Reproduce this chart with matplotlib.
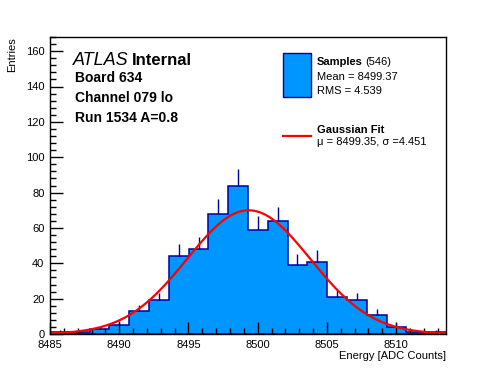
import numpy as np
import matplotlib
matplotlib.use("Agg")
import matplotlib.pyplot as plt
from matplotlib.ticker import MultipleLocator
from matplotlib.patches import Rectangle
from matplotlib.lines import Line2D

plt.rcParams['font.family'] = ['Liberation Sans', 'DejaVu Sans']

# histogram data (20 bins)
x_lo, x_hi = 8485.0, 8513.6
counts = np.array([1, 1, 3, 5, 13, 19, 44, 48, 68, 84,
                   59, 64, 39, 41, 21, 19, 11, 4, 1, 1])
n_entries = 546
mean_val, rms_val = 8499.37, 4.539
fit_mu, fit_sigma = 8499.35, 4.451

edges = np.linspace(x_lo, x_hi, len(counts) + 1)
centers = 0.5 * (edges[:-1] + edges[1:])
bw = edges[1] - edges[0]

W, H = 496, 372
fig = plt.figure(figsize=(W / 100, H / 100), dpi=100)
ax = fig.add_axes([50 / W, 1 - 334 / H, 396 / W, 297 / H])

def px(x, y):
    return x / W, 1 - y / H

fill = '#0096ff'
edge = '#00009c'
ax.hist(centers, bins=edges, weights=counts, histtype='stepfilled',
        facecolor=fill, edgecolor=edge, linewidth=1.1)
ax.vlines(centers, counts, counts + np.sqrt(counts), color=edge, linewidth=1)

# gaussian fit curve from fitted parameters
xs = np.linspace(x_lo, x_hi, 400)
gauss = n_entries * bw / (np.sqrt(2 * np.pi) * fit_sigma) * np.exp(-0.5 * ((xs - fit_mu) / fit_sigma) ** 2)
ax.plot(xs, gauss, color='#ff0000', linewidth=1.6)

ax.set_xlim(x_lo, x_hi)
ax.set_ylim(0, 168)
ax.xaxis.set_major_locator(MultipleLocator(5))
ax.xaxis.set_minor_locator(MultipleLocator(1))
ax.yaxis.set_major_locator(MultipleLocator(20))
ax.yaxis.set_minor_locator(MultipleLocator(4))
ax.tick_params(which='both', direction='in', top=False, right=False, labelsize=8)
ax.tick_params(which='major', length=9, width=1)
ax.tick_params(which='minor', length=4.5, width=1)
ax.tick_params(axis='x', pad=4)
ax.tick_params(axis='y', pad=4)
for s in ax.spines.values():
    s.set_linewidth(1)

# axis titles
fig.text(*px(446, 359), 'Energy [ADC Counts]', ha='right', va='baseline', fontsize=8)
fig.text(*px(7, 37), 'Entries', ha='right', va='top', rotation=90, fontsize=8,
         rotation_mode='anchor')

# ATLAS labels
fig.text(*px(73, 65), 'ATLAS', style='italic', fontsize=13, va='baseline')
fig.text(*px(132, 65), 'Internal', weight='bold', fontsize=12, va='baseline')
fig.text(*px(75, 82), 'Board 634', weight='bold', fontsize=10, va='baseline')
fig.text(*px(75, 102), 'Channel 079 lo', weight='bold', fontsize=10, va='baseline')
fig.text(*px(75, 122), 'Run 1534 A=0.8', weight='bold', fontsize=10, va='baseline')

# legend
x0, y0 = px(283, 97)
x1, y1 = px(311, 53)
fig.patches.append(Rectangle((x0, y0), x1 - x0, y1 - y0, transform=fig.transFigure,
                             facecolor=fill, edgecolor=edge, linewidth=1))
lx0, ly = px(283, 136)
lx1, _ = px(311, 136)
fig.lines.append(Line2D([lx0, lx1], [ly, ly], transform=fig.transFigure,
                        color='#ff0000', linewidth=1.6))
fig.text(*px(317, 65), 'Samples', weight='bold', fontsize=8, va='baseline')
fig.text(*px(365, 65), '(%d)' % n_entries, fontsize=8, va='baseline')
fig.text(*px(317, 80), 'Mean = %.2f' % mean_val, fontsize=8, va='baseline')
fig.text(*px(317, 94), 'RMS = %.3f' % rms_val, fontsize=8, va='baseline')
fig.text(*px(317, 133), 'Gaussian Fit', weight='bold', fontsize=8, va='baseline')
fig.text(*px(317, 145), '\u03bc = %.2f, \u03c3 =%.3f' % (fit_mu, fit_sigma),
         fontsize=8, va='baseline')

fig.savefig('out.png', dpi=100)
